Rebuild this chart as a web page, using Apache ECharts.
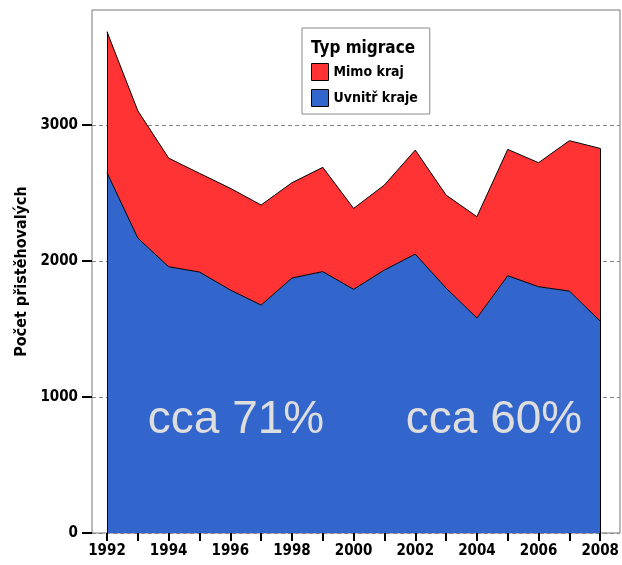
<!DOCTYPE html>
<html>
<head>
<meta charset="utf-8">
<script src="https://cdn.jsdelivr.net/npm/echarts@6/dist/echarts.min.js"></script>
<style>html,body{margin:0;padding:0;background:#fff;overflow:hidden}#c{width:622px;height:565px}</style>
</head>
<body>
<div id="c"></div>
<script>
const years = ['1992','1993','1994','1995','1996','1997','1998','1999','2000','2001','2002','2003','2004','2005','2006','2007','2008'];
const uvnitrKraje = [2649,2169,1958,1919,1787,1676,1875,1922,1792,1934,2051,1801,1581,1892,1811,1779,1558];
const mimoKraj    = [1037,936,799,726,748,736,701,767,595,625,765,684,745,929,912,1106,1270];
const yTicks = [0,1000,2000,3000];
const seriesNames = ['Uvnitř kraje','Mimo kraj'];
const legendTitle = 'Typ migrace';
const yTitle = 'Počet přistěhovalých';
const notes = ['cca 71%','cca 60%'];

const totals = years.map((y,i)=>uvnitrKraje[i]+mimoKraj[i]);
const font = 'DejaVu Sans Condensed';
const yMax = 3846;
const chart = echarts.init(document.getElementById('c'), null, {renderer:'canvas',width:622,height:565});
chart.setOption({
  animation:false,
  backgroundColor:'#fff',
  grid:[
    {left:92,top:10,width:528,height:523,show:true,borderColor:'#777',borderWidth:1,backgroundColor:'transparent'},
    {left:107,top:10,width:498,height:523}
  ],
  title:{text:legendTitle,left:311,top:40,padding:0,textStyle:{fontFamily:font,fontSize:17,fontWeight:'bold',color:'#000'}},
  legend:{
    orient:'vertical',left:302,top:28,
    padding:[35,12,7,9],itemGap:8,
    borderColor:'#888',borderWidth:1,
    itemWidth:17,itemHeight:17,
    data:[{name:'Mimo kraj',icon:'rect'},{name:'Uvnitř kraje',icon:'rect'}],
    textStyle:{fontFamily:font,fontSize:14,fontWeight:'bold',color:'#000'},
    itemStyle:{borderColor:'#000',borderWidth:1}
  },
  xAxis:[
    {type:'value',gridIndex:0,min:0,max:1,show:false},
    {type:'category',gridIndex:1,data:years,boundaryGap:false,
     axisLine:{show:false},splitLine:{show:false},
     axisTick:{show:true,length:8,interval:0,lineStyle:{color:'#000',width:2}},
     axisLabel:{interval:1,margin:11,fontFamily:font,fontSize:15,fontWeight:'bold',color:'#000'}}
  ],
  yAxis:[
    {type:'value',gridIndex:0,min:0,max:yMax,
     name:yTitle,nameLocation:'middle',nameGap:55,
     nameTextStyle:{fontFamily:font,fontSize:16,fontWeight:'bold',color:'#000'},
     axisLine:{show:false},
     axisTick:{show:true,length:10,customValues:yTicks,lineStyle:{color:'#000',width:2}},
     axisLabel:{customValues:yTicks,margin:14,fontFamily:font,fontSize:15,fontWeight:'bold',color:'#000',formatter:v=>String(v)},
     splitLine:{show:true,lineStyle:{color:'#888',type:[4,3],width:1}}},
    {type:'value',gridIndex:1,min:0,max:yMax,show:false,splitLine:{show:false}}
  ],
  series:[
    {name:seriesNames[0],type:'line',xAxisIndex:1,yAxisIndex:1,stack:'a',data:uvnitrKraje,
     symbol:'none',lineStyle:{color:'#000',width:1},areaStyle:{color:'#3366CC',opacity:1},itemStyle:{color:'#3366CC'},z:3},
    {name:seriesNames[1],type:'line',xAxisIndex:1,yAxisIndex:1,stack:'a',data:mimoKraj,
     symbol:'none',lineStyle:{color:'#000',width:1},areaStyle:{color:'#FF3333',opacity:1},itemStyle:{color:'#FF3333'},z:2,
     markLine:{silent:true,symbol:'none',label:{show:false},lineStyle:{color:'#000',width:1,type:'solid'},
       data:[
         [{coord:[years[0],0]},{coord:[years[0],totals[0]]}],
         [{coord:[years[years.length-1],0]},{coord:[years[years.length-1],totals[totals.length-1]]}]
       ]}}
  ],
  graphic:[
    {type:'text',x:236,y:443,z:100,style:{text:notes[0],fill:'#dedede',font:'46px "Liberation Sans"',textAlign:'center',textVerticalAlign:'bottom'}},
    {type:'text',x:494,y:443,z:100,style:{text:notes[1],fill:'#dedede',font:'46px "Liberation Sans"',textAlign:'center',textVerticalAlign:'bottom'}}
  ]
});
</script>
</body>
</html>
